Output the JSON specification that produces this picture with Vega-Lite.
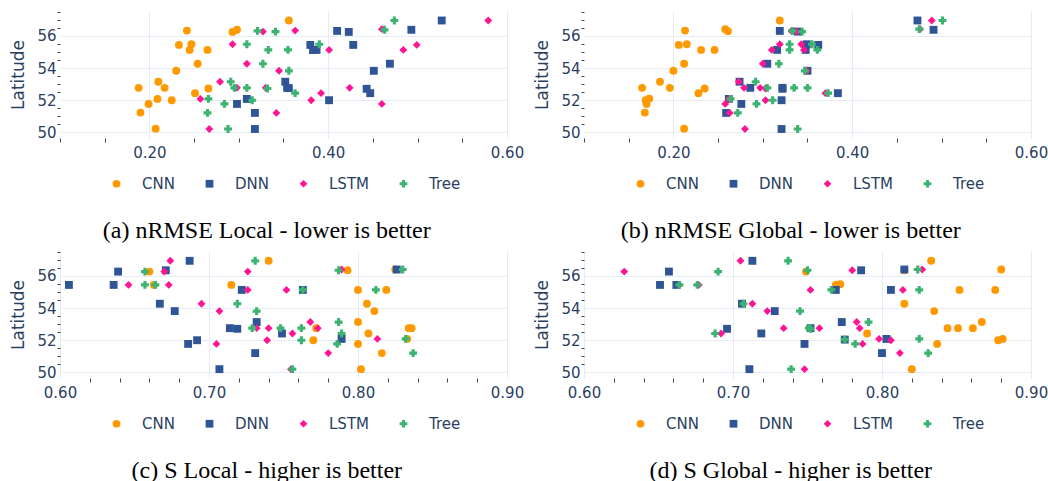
{
  "$schema": "https://vega.github.io/schema/vega-lite/v6.json",
  "padding": {"left": 9, "top": 11, "right": 0, "bottom": 0},
  "config": {
    "view": {"stroke": null},
    "font": "DejaVu Sans",
    "axis": {"domain": false, "labelFont": "DejaVu Sans", "labelFontSize": 15, "labelColor": "#2a3f5f", "titleColor": "#2a3f5f", "titleFont": "DejaVu Sans", "titleFontSize": 17, "titleFontWeight": "normal", "gridColor": "#E6ECF6", "gridWidth": 1, "tickColor": "#444444", "tickSize": 3, "tickWidth": 1, "labelOverlap": false, "labelFlush": false, "labelBound": false},
    "legend": {"orient": "none", "direction": "horizontal", "legendX": 49, "legendY": 165, "title": null, "labelFont": "DejaVu Sans", "labelFontSize": 15, "labelColor": "#2a3f5f", "symbolSize": 60, "labelOffset": 18, "columnPadding": 27, "symbolStrokeWidth": 0, "padding": 0},
    "title": {"orient": "bottom", "anchor": "middle", "frame": "bounds", "font": "Liberation Serif", "fontSize": 24, "fontWeight": "normal", "color": "#000000", "offset": 27}
  },
  "datasets": {
    "a": [
      {"Model":"CNN","value":0.356,"Latitude":56.96},{"Model":"CNN","value":0.242,"Latitude":56.33},{"Model":"CNN","value":0.293,"Latitude":56.25},{"Model":"CNN","value":0.298,"Latitude":56.38},{"Model":"CNN","value":0.233,"Latitude":55.44},{"Model":"CNN","value":0.247,"Latitude":55.48},{"Model":"CNN","value":0.245,"Latitude":55.13},{"Model":"CNN","value":0.265,"Latitude":55.13},{"Model":"CNN","value":0.254,"Latitude":54.27},{"Model":"CNN","value":0.230,"Latitude":53.83},{"Model":"CNN","value":0.210,"Latitude":53.15},{"Model":"CNN","value":0.188,"Latitude":52.77},{"Model":"CNN","value":0.217,"Latitude":52.77},{"Model":"CNN","value":0.266,"Latitude":52.73},{"Model":"CNN","value":0.251,"Latitude":52.44},{"Model":"CNN","value":0.209,"Latitude":52.08},{"Model":"CNN","value":0.225,"Latitude":52.0},{"Model":"CNN","value":0.199,"Latitude":51.77},{"Model":"CNN","value":0.190,"Latitude":51.23},{"Model":"CNN","value":0.207,"Latitude":50.23},
      {"Model":"DNN","value":0.527,"Latitude":56.96},{"Model":"DNN","value":0.410,"Latitude":56.31},{"Model":"DNN","value":0.423,"Latitude":56.25},{"Model":"DNN","value":0.493,"Latitude":56.38},{"Model":"DNN","value":0.380,"Latitude":55.44},{"Model":"DNN","value":0.428,"Latitude":55.44},{"Model":"DNN","value":0.387,"Latitude":55.13},{"Model":"DNN","value":0.383,"Latitude":55.12},{"Model":"DNN","value":0.469,"Latitude":54.27},{"Model":"DNN","value":0.451,"Latitude":53.83},{"Model":"DNN","value":0.352,"Latitude":53.15},{"Model":"DNN","value":0.354,"Latitude":52.77},{"Model":"DNN","value":0.356,"Latitude":52.75},{"Model":"DNN","value":0.443,"Latitude":52.71},{"Model":"DNN","value":0.447,"Latitude":52.44},{"Model":"DNN","value":0.401,"Latitude":52.0},{"Model":"DNN","value":0.309,"Latitude":52.08},{"Model":"DNN","value":0.298,"Latitude":51.77},{"Model":"DNN","value":0.318,"Latitude":51.21},{"Model":"DNN","value":0.318,"Latitude":50.21},
      {"Model":"LSTM","value":0.579,"Latitude":56.96},{"Model":"LSTM","value":0.327,"Latitude":56.27},{"Model":"LSTM","value":0.363,"Latitude":56.33},{"Model":"LSTM","value":0.460,"Latitude":56.42},{"Model":"LSTM","value":0.293,"Latitude":55.48},{"Model":"LSTM","value":0.499,"Latitude":55.44},{"Model":"LSTM","value":0.401,"Latitude":55.13},{"Model":"LSTM","value":0.484,"Latitude":55.13},{"Model":"LSTM","value":0.309,"Latitude":54.27},{"Model":"LSTM","value":0.345,"Latitude":53.83},{"Model":"LSTM","value":0.279,"Latitude":53.15},{"Model":"LSTM","value":0.298,"Latitude":52.77},{"Model":"LSTM","value":0.330,"Latitude":52.77},{"Model":"LSTM","value":0.424,"Latitude":52.77},{"Model":"LSTM","value":0.392,"Latitude":52.44},{"Model":"LSTM","value":0.257,"Latitude":52.08},{"Model":"LSTM","value":0.381,"Latitude":52.0},{"Model":"LSTM","value":0.460,"Latitude":51.77},{"Model":"LSTM","value":0.342,"Latitude":51.21},{"Model":"LSTM","value":0.267,"Latitude":50.21},
      {"Model":"Tree","value":0.474,"Latitude":56.96},{"Model":"Tree","value":0.321,"Latitude":56.31},{"Model":"Tree","value":0.341,"Latitude":56.27},{"Model":"Tree","value":0.463,"Latitude":56.38},{"Model":"Tree","value":0.309,"Latitude":55.48},{"Model":"Tree","value":0.390,"Latitude":55.48},{"Model":"Tree","value":0.333,"Latitude":55.13},{"Model":"Tree","value":0.355,"Latitude":55.13},{"Model":"Tree","value":0.327,"Latitude":54.27},{"Model":"Tree","value":0.356,"Latitude":53.83},{"Model":"Tree","value":0.291,"Latitude":53.15},{"Model":"Tree","value":0.295,"Latitude":52.77},{"Model":"Tree","value":0.309,"Latitude":52.77},{"Model":"Tree","value":0.332,"Latitude":52.73},{"Model":"Tree","value":0.363,"Latitude":52.44},{"Model":"Tree","value":0.266,"Latitude":52.08},{"Model":"Tree","value":0.315,"Latitude":52.0},{"Model":"Tree","value":0.284,"Latitude":51.77},{"Model":"Tree","value":0.265,"Latitude":51.21},{"Model":"Tree","value":0.288,"Latitude":50.21}
    ],
    "b": [
      {"Model":"CNN","value":0.319,"Latitude":56.96},{"Model":"CNN","value":0.213,"Latitude":56.33},{"Model":"CNN","value":0.258,"Latitude":56.42},{"Model":"CNN","value":0.261,"Latitude":56.29},{"Model":"CNN","value":0.206,"Latitude":55.44},{"Model":"CNN","value":0.215,"Latitude":55.48},{"Model":"CNN","value":0.231,"Latitude":55.13},{"Model":"CNN","value":0.246,"Latitude":55.13},{"Model":"CNN","value":0.212,"Latitude":54.27},{"Model":"CNN","value":0.200,"Latitude":53.83},{"Model":"CNN","value":0.185,"Latitude":53.15},{"Model":"CNN","value":0.165,"Latitude":52.77},{"Model":"CNN","value":0.196,"Latitude":52.77},{"Model":"CNN","value":0.235,"Latitude":52.73},{"Model":"CNN","value":0.228,"Latitude":52.44},{"Model":"CNN","value":0.173,"Latitude":52.1},{"Model":"CNN","value":0.169,"Latitude":52.0},{"Model":"CNN","value":0.170,"Latitude":51.77},{"Model":"CNN","value":0.168,"Latitude":51.23},{"Model":"CNN","value":0.212,"Latitude":50.23},
      {"Model":"DNN","value":0.473,"Latitude":56.96},{"Model":"DNN","value":0.491,"Latitude":56.38},{"Model":"DNN","value":0.319,"Latitude":56.31},{"Model":"DNN","value":0.339,"Latitude":56.27},{"Model":"DNN","value":0.349,"Latitude":55.48},{"Model":"DNN","value":0.362,"Latitude":55.44},{"Model":"DNN","value":0.316,"Latitude":55.13},{"Model":"DNN","value":0.348,"Latitude":55.13},{"Model":"DNN","value":0.305,"Latitude":54.27},{"Model":"DNN","value":0.350,"Latitude":53.83},{"Model":"DNN","value":0.274,"Latitude":53.15},{"Model":"DNN","value":0.286,"Latitude":52.77},{"Model":"DNN","value":0.322,"Latitude":52.77},{"Model":"DNN","value":0.322,"Latitude":52.71},{"Model":"DNN","value":0.384,"Latitude":52.44},{"Model":"DNN","value":0.262,"Latitude":52.08},{"Model":"DNN","value":0.321,"Latitude":52.0},{"Model":"DNN","value":0.276,"Latitude":51.77},{"Model":"DNN","value":0.259,"Latitude":51.21},{"Model":"DNN","value":0.321,"Latitude":50.21},
      {"Model":"LSTM","value":0.489,"Latitude":56.96},{"Model":"LSTM","value":0.476,"Latitude":56.42},{"Model":"LSTM","value":0.332,"Latitude":56.31},{"Model":"LSTM","value":0.338,"Latitude":56.27},{"Model":"LSTM","value":0.319,"Latitude":55.48},{"Model":"LSTM","value":0.343,"Latitude":55.48},{"Model":"LSTM","value":0.310,"Latitude":55.13},{"Model":"LSTM","value":0.346,"Latitude":55.13},{"Model":"LSTM","value":0.300,"Latitude":54.27},{"Model":"LSTM","value":0.349,"Latitude":53.83},{"Model":"LSTM","value":0.273,"Latitude":53.15},{"Model":"LSTM","value":0.279,"Latitude":52.77},{"Model":"LSTM","value":0.297,"Latitude":52.77},{"Model":"LSTM","value":0.303,"Latitude":52.73},{"Model":"LSTM","value":0.370,"Latitude":52.44},{"Model":"LSTM","value":0.262,"Latitude":52.08},{"Model":"LSTM","value":0.303,"Latitude":52.0},{"Model":"LSTM","value":0.258,"Latitude":51.77},{"Model":"LSTM","value":0.263,"Latitude":51.21},{"Model":"LSTM","value":0.280,"Latitude":50.21},
      {"Model":"Tree","value":0.501,"Latitude":56.96},{"Model":"Tree","value":0.475,"Latitude":56.42},{"Model":"Tree","value":0.333,"Latitude":56.31},{"Model":"Tree","value":0.344,"Latitude":56.27},{"Model":"Tree","value":0.330,"Latitude":55.48},{"Model":"Tree","value":0.355,"Latitude":55.48},{"Model":"Tree","value":0.330,"Latitude":55.13},{"Model":"Tree","value":0.361,"Latitude":55.13},{"Model":"Tree","value":0.318,"Latitude":54.27},{"Model":"Tree","value":0.347,"Latitude":53.83},{"Model":"Tree","value":0.292,"Latitude":53.15},{"Model":"Tree","value":0.305,"Latitude":52.77},{"Model":"Tree","value":0.335,"Latitude":52.77},{"Model":"Tree","value":0.350,"Latitude":52.77},{"Model":"Tree","value":0.373,"Latitude":52.44},{"Model":"Tree","value":0.264,"Latitude":52.08},{"Model":"Tree","value":0.311,"Latitude":52.0},{"Model":"Tree","value":0.293,"Latitude":51.77},{"Model":"Tree","value":0.272,"Latitude":51.21},{"Model":"Tree","value":0.339,"Latitude":50.21}
    ],
    "c": [
      {"Model":"CNN","value":0.740,"Latitude":56.94},{"Model":"CNN","value":0.660,"Latitude":56.27},{"Model":"CNN","value":0.793,"Latitude":56.35},{"Model":"CNN","value":0.825,"Latitude":56.4},{"Model":"CNN","value":0.715,"Latitude":55.44},{"Model":"CNN","value":0.663,"Latitude":55.44},{"Model":"CNN","value":0.800,"Latitude":55.13},{"Model":"CNN","value":0.819,"Latitude":55.13},{"Model":"CNN","value":0.806,"Latitude":54.27},{"Model":"CNN","value":0.811,"Latitude":53.81},{"Model":"CNN","value":0.800,"Latitude":53.13},{"Model":"CNN","value":0.772,"Latitude":52.75},{"Model":"CNN","value":0.834,"Latitude":52.75},{"Model":"CNN","value":0.836,"Latitude":52.75},{"Model":"CNN","value":0.807,"Latitude":52.42},{"Model":"CNN","value":0.770,"Latitude":52.0},{"Model":"CNN","value":0.833,"Latitude":52.08},{"Model":"CNN","value":0.800,"Latitude":51.77},{"Model":"CNN","value":0.816,"Latitude":51.2},{"Model":"CNN","value":0.802,"Latitude":50.2},
      {"Model":"DNN","value":0.687,"Latitude":56.94},{"Model":"DNN","value":0.639,"Latitude":56.27},{"Model":"DNN","value":0.671,"Latitude":56.35},{"Model":"DNN","value":0.826,"Latitude":56.4},{"Model":"DNN","value":0.606,"Latitude":55.44},{"Model":"DNN","value":0.636,"Latitude":55.44},{"Model":"DNN","value":0.722,"Latitude":55.13},{"Model":"DNN","value":0.763,"Latitude":55.13},{"Model":"DNN","value":0.667,"Latitude":54.27},{"Model":"DNN","value":0.677,"Latitude":53.81},{"Model":"DNN","value":0.732,"Latitude":53.13},{"Model":"DNN","value":0.714,"Latitude":52.75},{"Model":"DNN","value":0.719,"Latitude":52.71},{"Model":"DNN","value":0.749,"Latitude":52.42},{"Model":"DNN","value":0.789,"Latitude":52.08},{"Model":"DNN","value":0.692,"Latitude":52.0},{"Model":"DNN","value":0.686,"Latitude":51.77},{"Model":"DNN","value":0.731,"Latitude":51.2},{"Model":"DNN","value":0.707,"Latitude":50.2},
      {"Model":"LSTM","value":0.674,"Latitude":56.94},{"Model":"LSTM","value":0.670,"Latitude":56.27},{"Model":"LSTM","value":0.726,"Latitude":56.27},{"Model":"LSTM","value":0.789,"Latitude":56.4},{"Model":"LSTM","value":0.646,"Latitude":55.44},{"Model":"LSTM","value":0.673,"Latitude":55.44},{"Model":"LSTM","value":0.726,"Latitude":55.13},{"Model":"LSTM","value":0.752,"Latitude":55.13},{"Model":"LSTM","value":0.695,"Latitude":54.27},{"Model":"LSTM","value":0.707,"Latitude":53.81},{"Model":"LSTM","value":0.768,"Latitude":53.13},{"Model":"LSTM","value":0.732,"Latitude":52.75},{"Model":"LSTM","value":0.740,"Latitude":52.75},{"Model":"LSTM","value":0.773,"Latitude":52.75},{"Model":"LSTM","value":0.756,"Latitude":52.42},{"Model":"LSTM","value":0.739,"Latitude":52.0},{"Model":"LSTM","value":0.813,"Latitude":52.08},{"Model":"LSTM","value":0.705,"Latitude":51.77},{"Model":"LSTM","value":0.780,"Latitude":51.2},{"Model":"LSTM","value":0.755,"Latitude":50.2},
      {"Model":"Tree","value":0.731,"Latitude":56.94},{"Model":"Tree","value":0.657,"Latitude":56.27},{"Model":"Tree","value":0.787,"Latitude":56.35},{"Model":"Tree","value":0.830,"Latitude":56.4},{"Model":"Tree","value":0.657,"Latitude":55.44},{"Model":"Tree","value":0.664,"Latitude":55.44},{"Model":"Tree","value":0.763,"Latitude":55.13},{"Model":"Tree","value":0.812,"Latitude":55.13},{"Model":"Tree","value":0.719,"Latitude":54.27},{"Model":"Tree","value":0.732,"Latitude":53.81},{"Model":"Tree","value":0.787,"Latitude":53.13},{"Model":"Tree","value":0.729,"Latitude":52.75},{"Model":"Tree","value":0.748,"Latitude":52.75},{"Model":"Tree","value":0.762,"Latitude":52.75},{"Model":"Tree","value":0.789,"Latitude":52.42},{"Model":"Tree","value":0.762,"Latitude":52.0},{"Model":"Tree","value":0.832,"Latitude":52.08},{"Model":"Tree","value":0.786,"Latitude":51.77},{"Model":"Tree","value":0.837,"Latitude":51.2},{"Model":"Tree","value":0.756,"Latitude":50.2}
    ],
    "d": [
      {"Model":"CNN","value":0.833,"Latitude":56.94},{"Model":"CNN","value":0.749,"Latitude":56.27},{"Model":"CNN","value":0.880,"Latitude":56.4},{"Model":"CNN","value":0.815,"Latitude":56.35},{"Model":"CNN","value":0.769,"Latitude":55.44},{"Model":"CNN","value":0.772,"Latitude":55.48},{"Model":"CNN","value":0.852,"Latitude":55.13},{"Model":"CNN","value":0.876,"Latitude":55.13},{"Model":"CNN","value":0.815,"Latitude":54.27},{"Model":"CNN","value":0.835,"Latitude":53.81},{"Model":"CNN","value":0.867,"Latitude":53.13},{"Model":"CNN","value":0.844,"Latitude":52.75},{"Model":"CNN","value":0.851,"Latitude":52.75},{"Model":"CNN","value":0.861,"Latitude":52.75},{"Model":"CNN","value":0.790,"Latitude":52.42},{"Model":"CNN","value":0.878,"Latitude":52.0},{"Model":"CNN","value":0.881,"Latitude":52.08},{"Model":"CNN","value":0.837,"Latitude":51.77},{"Model":"CNN","value":0.820,"Latitude":50.2},
      {"Model":"DNN","value":0.713,"Latitude":56.94},{"Model":"DNN","value":0.657,"Latitude":56.27},{"Model":"DNN","value":0.786,"Latitude":56.35},{"Model":"DNN","value":0.815,"Latitude":56.4},{"Model":"DNN","value":0.651,"Latitude":55.44},{"Model":"DNN","value":0.662,"Latitude":55.44},{"Model":"DNN","value":0.769,"Latitude":55.13},{"Model":"DNN","value":0.806,"Latitude":55.13},{"Model":"DNN","value":0.706,"Latitude":54.27},{"Model":"DNN","value":0.728,"Latitude":53.81},{"Model":"DNN","value":0.773,"Latitude":53.13},{"Model":"DNN","value":0.696,"Latitude":52.71},{"Model":"DNN","value":0.752,"Latitude":52.75},{"Model":"DNN","value":0.719,"Latitude":52.42},{"Model":"DNN","value":0.775,"Latitude":52.04},{"Model":"DNN","value":0.803,"Latitude":52.08},{"Model":"DNN","value":0.748,"Latitude":51.77},{"Model":"DNN","value":0.800,"Latitude":51.2},{"Model":"DNN","value":0.711,"Latitude":50.2},
      {"Model":"LSTM","value":0.705,"Latitude":56.94},{"Model":"LSTM","value":0.627,"Latitude":56.27},{"Model":"LSTM","value":0.780,"Latitude":56.35},{"Model":"LSTM","value":0.827,"Latitude":56.4},{"Model":"LSTM","value":0.664,"Latitude":55.44},{"Model":"LSTM","value":0.677,"Latitude":55.44},{"Model":"LSTM","value":0.752,"Latitude":55.13},{"Model":"LSTM","value":0.814,"Latitude":55.13},{"Model":"LSTM","value":0.713,"Latitude":54.27},{"Model":"LSTM","value":0.723,"Latitude":53.81},{"Model":"LSTM","value":0.783,"Latitude":53.13},{"Model":"LSTM","value":0.785,"Latitude":52.75},{"Model":"LSTM","value":0.734,"Latitude":52.75},{"Model":"LSTM","value":0.758,"Latitude":52.75},{"Model":"LSTM","value":0.692,"Latitude":52.42},{"Model":"LSTM","value":0.798,"Latitude":52.08},{"Model":"LSTM","value":0.806,"Latitude":52.0},{"Model":"LSTM","value":0.787,"Latitude":51.77},{"Model":"LSTM","value":0.812,"Latitude":51.2},{"Model":"LSTM","value":0.748,"Latitude":50.2},
      {"Model":"Tree","value":0.737,"Latitude":56.94},{"Model":"Tree","value":0.690,"Latitude":56.27},{"Model":"Tree","value":0.750,"Latitude":56.35},{"Model":"Tree","value":0.824,"Latitude":56.4},{"Model":"Tree","value":0.664,"Latitude":55.44},{"Model":"Tree","value":0.676,"Latitude":55.44},{"Model":"Tree","value":0.766,"Latitude":55.13},{"Model":"Tree","value":0.825,"Latitude":55.13},{"Model":"Tree","value":0.707,"Latitude":54.27},{"Model":"Tree","value":0.745,"Latitude":53.81},{"Model":"Tree","value":0.791,"Latitude":53.13},{"Model":"Tree","value":0.751,"Latitude":52.75},{"Model":"Tree","value":0.752,"Latitude":52.71},{"Model":"Tree","value":0.688,"Latitude":52.42},{"Model":"Tree","value":0.775,"Latitude":52.04},{"Model":"Tree","value":0.825,"Latitude":52.08},{"Model":"Tree","value":0.782,"Latitude":51.77},{"Model":"Tree","value":0.831,"Latitude":51.2},{"Model":"Tree","value":0.739,"Latitude":50.2}
    ]
  },
  "resolve": {"legend": {"color": "independent", "shape": "independent"}},
  "spacing": 8,
  "vconcat": [
    {
      "resolve": {"legend": {"color": "independent", "shape": "independent"}},
      "spacing": 9,
      "hconcat": [
        {
          "width": 447, "height": 127,
          "data": {"name": "a"},
          "title": {"text": "(a) nRMSE Local - lower is better"},
          "resolve": {"axis": {"x": "independent", "y": "independent"}},
          "layer": [
            {
              "mark": {"type": "point", "filled": true, "opacity": 1, "size": 62, "strokeWidth": 0},
              "encoding": {
                "x": {"field": "value", "type": "quantitative", "scale": {"domain": [0.1, 0.6], "nice": false, "zero": false},
                  "axis": {"title": null, "format": ".2f", "values": [0.2, 0.4, 0.6], "ticks": false, "labelPadding": 7}},
                "y": {"field": "Latitude", "type": "quantitative", "scale": {"domain": [49.65, 57.55], "nice": false, "zero": false},
                  "axis": {"title": "Latitude", "format": "d", "values": [50, 52, 54, 56], "ticks": false, "labelPadding": 4, "titlePadding": 9}},
                "color": {"field": "Model", "type": "nominal", "scale": {"domain": ["CNN","DNN","LSTM","Tree"], "range": ["#FF9900","#2F5597","#FF1493","#3CB371"]}},
                "shape": {"field": "Model", "type": "nominal", "scale": {"domain": ["CNN","DNN","LSTM","Tree"], "range": ["circle","square","diamond","cross"]}}
              }
            },
            {
              "mark": {"type": "point", "opacity": 0},
              "encoding": {
                "x": {"field": "value", "type": "quantitative", "axis": {"orient": "bottom", "title": null, "labels": false, "grid": false, "tickSize": 4, "values": [0.1,0.15,0.25,0.3,0.35,0.45,0.5,0.55]}},
                "y": {"field": "Latitude", "type": "quantitative", "axis": {"orient": "left", "title": null, "labels": false, "grid": false, "tickSize": 3, "values": [50.5,51,51.5,52.5,53,53.5,54.5,55,55.5,56.5,57,57.5]}}
              }
            }
          ]
        },
        {
          "width": 447, "height": 127,
          "data": {"name": "b"},
          "title": {"text": "(b) nRMSE Global - lower is better"},
          "resolve": {"axis": {"x": "independent", "y": "independent"}},
          "layer": [
            {
              "mark": {"type": "point", "filled": true, "opacity": 1, "size": 62, "strokeWidth": 0},
              "encoding": {
                "x": {"field": "value", "type": "quantitative", "scale": {"domain": [0.1, 0.6], "nice": false, "zero": false},
                  "axis": {"title": null, "format": ".2f", "values": [0.2, 0.4, 0.6], "ticks": false, "labelPadding": 7}},
                "y": {"field": "Latitude", "type": "quantitative", "scale": {"domain": [49.65, 57.55], "nice": false, "zero": false},
                  "axis": {"title": "Latitude", "format": "d", "values": [50, 52, 54, 56], "ticks": false, "labelPadding": 4, "titlePadding": 9}},
                "color": {"field": "Model", "type": "nominal", "scale": {"domain": ["CNN","DNN","LSTM","Tree"], "range": ["#FF9900","#2F5597","#FF1493","#3CB371"]}},
                "shape": {"field": "Model", "type": "nominal", "scale": {"domain": ["CNN","DNN","LSTM","Tree"], "range": ["circle","square","diamond","cross"]}}
              }
            },
            {
              "mark": {"type": "point", "opacity": 0},
              "encoding": {
                "x": {"field": "value", "type": "quantitative", "axis": {"orient": "bottom", "title": null, "labels": false, "grid": false, "tickSize": 4, "values": [0.1,0.15,0.25,0.3,0.35,0.45,0.5,0.55]}},
                "y": {"field": "Latitude", "type": "quantitative", "axis": {"orient": "left", "title": null, "labels": false, "grid": false, "tickSize": 3, "values": [50.5,51,51.5,52.5,53,53.5,54.5,55,55.5,56.5,57,57.5]}}
              }
            }
          ]
        }
      ]
    },
    {
      "resolve": {"legend": {"color": "independent", "shape": "independent"}},
      "spacing": 9,
      "hconcat": [
        {
          "width": 447, "height": 127,
          "data": {"name": "c"},
          "title": {"text": "(c) S Local - higher is better"},
          "resolve": {"axis": {"x": "independent", "y": "independent"}},
          "layer": [
            {
              "mark": {"type": "point", "filled": true, "opacity": 1, "size": 62, "strokeWidth": 0},
              "encoding": {
                "x": {"field": "value", "type": "quantitative", "scale": {"domain": [0.6, 0.9], "nice": false, "zero": false},
                  "axis": {"title": null, "format": ".2f", "values": [0.6, 0.7, 0.8, 0.9], "ticks": false, "labelPadding": 7}},
                "y": {"field": "Latitude", "type": "quantitative", "scale": {"domain": [49.65, 57.55], "nice": false, "zero": false},
                  "axis": {"title": "Latitude", "format": "d", "values": [50, 52, 54, 56], "ticks": false, "labelPadding": 4, "titlePadding": 9}},
                "color": {"field": "Model", "type": "nominal", "scale": {"domain": ["CNN","DNN","LSTM","Tree"], "range": ["#FF9900","#2F5597","#FF1493","#3CB371"]}},
                "shape": {"field": "Model", "type": "nominal", "scale": {"domain": ["CNN","DNN","LSTM","Tree"], "range": ["circle","square","diamond","cross"]}}
              }
            },
            {
              "mark": {"type": "point", "opacity": 0},
              "encoding": {
                "x": {"field": "value", "type": "quantitative", "axis": {"orient": "bottom", "title": null, "labels": false, "grid": false, "tickSize": 4, "values": [0.62,0.64,0.66,0.68,0.72,0.74,0.76,0.78,0.82,0.84,0.86,0.88]}},
                "y": {"field": "Latitude", "type": "quantitative", "axis": {"orient": "left", "title": null, "labels": false, "grid": false, "tickSize": 3, "values": [50.5,51,51.5,52.5,53,53.5,54.5,55,55.5,56.5,57,57.5]}}
              }
            }
          ]
        },
        {
          "width": 447, "height": 127,
          "data": {"name": "d"},
          "title": {"text": "(d) S Global - higher is better"},
          "resolve": {"axis": {"x": "independent", "y": "independent"}},
          "layer": [
            {
              "mark": {"type": "point", "filled": true, "opacity": 1, "size": 62, "strokeWidth": 0},
              "encoding": {
                "x": {"field": "value", "type": "quantitative", "scale": {"domain": [0.6, 0.9], "nice": false, "zero": false},
                  "axis": {"title": null, "format": ".2f", "values": [0.6, 0.7, 0.8, 0.9], "ticks": false, "labelPadding": 7}},
                "y": {"field": "Latitude", "type": "quantitative", "scale": {"domain": [49.65, 57.55], "nice": false, "zero": false},
                  "axis": {"title": "Latitude", "format": "d", "values": [50, 52, 54, 56], "ticks": false, "labelPadding": 4, "titlePadding": 9}},
                "color": {"field": "Model", "type": "nominal", "scale": {"domain": ["CNN","DNN","LSTM","Tree"], "range": ["#FF9900","#2F5597","#FF1493","#3CB371"]}},
                "shape": {"field": "Model", "type": "nominal", "scale": {"domain": ["CNN","DNN","LSTM","Tree"], "range": ["circle","square","diamond","cross"]}}
              }
            },
            {
              "mark": {"type": "point", "opacity": 0},
              "encoding": {
                "x": {"field": "value", "type": "quantitative", "axis": {"orient": "bottom", "title": null, "labels": false, "grid": false, "tickSize": 4, "values": [0.62,0.64,0.66,0.68,0.72,0.74,0.76,0.78,0.82,0.84,0.86,0.88]}},
                "y": {"field": "Latitude", "type": "quantitative", "axis": {"orient": "left", "title": null, "labels": false, "grid": false, "tickSize": 3, "values": [50.5,51,51.5,52.5,53,53.5,54.5,55,55.5,56.5,57,57.5]}}
              }
            }
          ]
        }
      ]
    }
  ]
}
